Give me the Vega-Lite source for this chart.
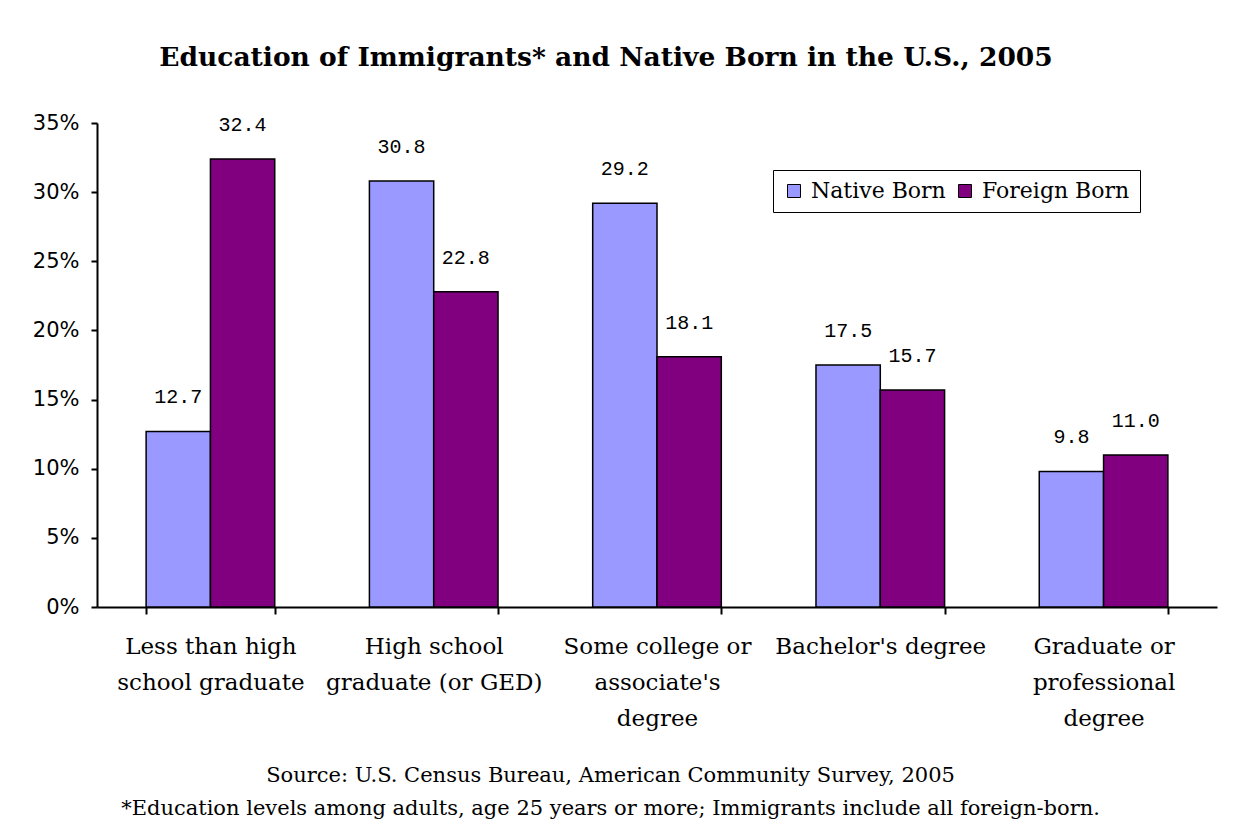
{
  "$schema": "https://vega.github.io/schema/vega-lite/v6.json",
  "autosize": {"type": "none"},
  "width": 1120,
  "height": 484,
  "padding": {"left": 97, "top": 123, "right": 21, "bottom": 227},
  "background": "white",
  "title": {
    "text": "Education of Immigrants* and Native Born in the U.S., 2005",
    "font": "DejaVu Serif",
    "fontSize": 26.5,
    "fontWeight": "bold",
    "color": "black",
    "anchor": "middle",
    "dx": -51,
    "offset": 41
  },
  "data": {
    "values": [
      {"category": "Less than high school graduate", "group": "Native Born", "value": 12.7},
      {"category": "Less than high school graduate", "group": "Foreign Born", "value": 32.4},
      {"category": "High school graduate (or GED)", "group": "Native Born", "value": 30.8},
      {"category": "High school graduate (or GED)", "group": "Foreign Born", "value": 22.8},
      {"category": "Some college or associate's degree", "group": "Native Born", "value": 29.2},
      {"category": "Some college or associate's degree", "group": "Foreign Born", "value": 18.1},
      {"category": "Bachelor's degree", "group": "Native Born", "value": 17.5},
      {"category": "Bachelor's degree", "group": "Foreign Born", "value": 15.7},
      {"category": "Graduate or professional degree", "group": "Native Born", "value": 9.8},
      {"category": "Graduate or professional degree", "group": "Foreign Born", "value": 11.0}
    ]
  },
  "encoding": {
    "x": {
      "field": "category",
      "type": "nominal",
      "sort": null,
      "scale": {"paddingInner": 0.424, "paddingOuter": 0.22},
      "axis": {
        "labelAngle": 0,
        "labelFont": "DejaVu Serif",
        "labelFontSize": 23,
        "labelColor": "black",
        "labelLineHeight": 36,
        "labelPadding": 21,
        "labelLimit": 300,
        "labelExpr": "datum.value == 'Less than high school graduate' ? ['Less than high', 'school graduate'] : datum.value == 'High school graduate (or GED)' ? ['High school', 'graduate (or GED)'] : datum.value == \"Some college or associate's degree\" ? ['Some college or', \"associate's\", 'degree'] : datum.value == 'Graduate or professional degree' ? ['Graduate or', 'professional', 'degree'] : datum.value",
        "domainColor": "black",
        "domainWidth": 2,
        "tickColor": "black",
        "tickWidth": 2,
        "tickSize": 7,
        "tickBand": "extent",
        "title": ["Source: U.S. Census Bureau, American Community Survey, 2005", "*Education levels among adults, age 25 years or more; Immigrants include all foreign-born."],
        "titleFont": "DejaVu Serif",
        "titleFontSize": 21,
        "titleFontWeight": "normal",
        "titleColor": "black",
        "titleLineHeight": 33,
        "titlePadding": 34,
        "titleX": 513
      }
    },
    "xOffset": {"field": "group", "type": "nominal", "sort": ["Native Born", "Foreign Born"]},
    "y": {
      "field": "value",
      "type": "quantitative",
      "scale": {"domain": [0, 35]},
      "axis": {
        "values": [0, 5, 10, 15, 20, 25, 30, 35],
        "labelExpr": "datum.value + '%'",
        "labelFont": "DejaVu Sans",
        "labelFontSize": 21,
        "labelColor": "black",
        "labelPadding": 12,
        "grid": false,
        "domainColor": "black",
        "domainWidth": 2,
        "tickColor": "black",
        "tickWidth": 2,
        "tickSize": 6,
        "title": null
      }
    }
  },
  "layer": [
    {
      "mark": {"type": "bar", "stroke": "black", "strokeWidth": 1.5},
      "encoding": {
        "color": {
          "field": "group",
          "type": "nominal",
          "sort": ["Native Born", "Foreign Born"],
          "scale": {"domain": ["Native Born", "Foreign Born"], "range": ["#9999FF", "#800080"]},
          "legend": {
            "orient": "none",
            "legendX": 676,
            "legendY": 47,
            "direction": "horizontal",
            "title": null,
            "padding": 10,
            "fillColor": "white",
            "strokeColor": "black",
            "symbolType": "square",
            "symbolSize": 169,
            "symbolStrokeColor": "black",
            "symbolStrokeWidth": 1,
            "symbolOpacity": 1,
            "labelFont": "DejaVu Serif",
            "labelFontSize": 22,
            "labelColor": "black",
            "labelOffset": 6,
            "columnPadding": 8,
            "labelLimit": 300
          }
        }
      }
    },
    {
      "mark": {"type": "text", "dy": -34, "baseline": "middle", "align": "center", "font": "Liberation Mono", "fontSize": 20, "color": "black"},
      "encoding": {
        "text": {"field": "value", "type": "quantitative", "format": ".1f"}
      }
    }
  ],
  "config": {
    "view": {"stroke": null}
  }
}
